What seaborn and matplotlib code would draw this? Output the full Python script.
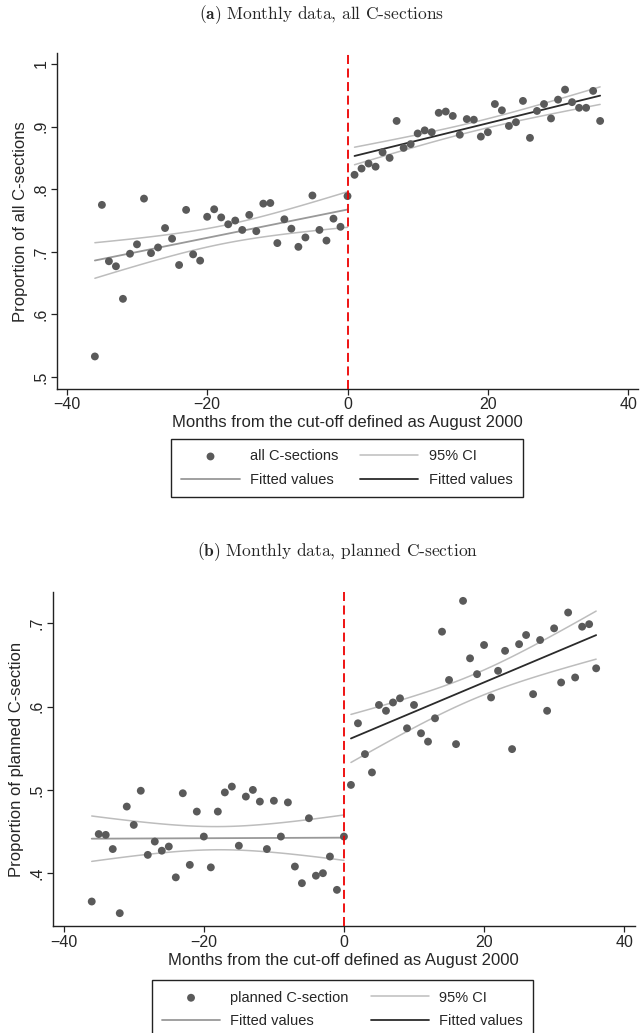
import numpy as np
import pandas as pd
import matplotlib.pyplot as plt
import matplotlib.ticker as mticker
import seaborn as sns

# months relative to cut-off (August 2000)
months = list(range(-36, 37))

# proportion of all C-sections, months -36..36
all_cs = [0.533, 0.775, 0.685, 0.677, 0.625, 0.697, 0.712, 0.785, 0.698, 0.707,
          0.738, 0.721, 0.679, 0.767, 0.696, 0.686, 0.756, 0.768, 0.755, 0.744,
          0.750, 0.735, 0.759, 0.733, 0.777, 0.778, 0.714, 0.752, 0.737, 0.708,
          0.723, 0.790, 0.735, 0.718, 0.753, 0.740, 0.789,
          0.823, 0.833, 0.841, 0.836, 0.859, 0.850, 0.909, 0.866, 0.872, 0.889,
          0.894, 0.891, 0.922, 0.924, 0.917, 0.887, 0.912, 0.911, 0.884, 0.891,
          0.936, 0.926, 0.901, 0.907, 0.941, 0.882, 0.925, 0.936, 0.913, 0.943,
          0.959, 0.939, 0.930, 0.930, 0.957, 0.909]

# proportion of planned C-section, months -36..36
planned_cs = [0.366, 0.447, 0.446, 0.429, 0.352, 0.480, 0.458, 0.499, 0.422, 0.438,
              0.427, 0.432, 0.395, 0.496, 0.410, 0.474, 0.444, 0.407, 0.474, 0.497,
              0.504, 0.433, 0.492, 0.500, 0.486, 0.429, 0.487, 0.444, 0.485, 0.408,
              0.388, 0.466, 0.397, 0.400, 0.420, 0.380, 0.444,
              0.506, 0.580, 0.543, 0.521, 0.602, 0.595, 0.605, 0.610, 0.574, 0.602,
              0.568, 0.558, 0.586, 0.690, 0.632, 0.555, 0.727, 0.658, 0.639, 0.674,
              0.611, 0.643, 0.667, 0.549, 0.675, 0.686, 0.615, 0.680, 0.595, 0.694,
              0.629, 0.713, 0.635, 0.696, 0.699, 0.646]

sns.set_theme(style="white")
plt.rcParams['font.family'] = ['Liberation Sans', 'DejaVu Sans']
plt.rcParams['mathtext.fontset'] = 'cm'

DOT = '#5a5a5a'
CI = '#bdbdbd'
FIT_L = '#999999'
FIT_R = '#2b2b2b'


def fit_ci(x, y, t=2.03):
    x = np.asarray(x, float)
    y = np.asarray(y, float)
    b, a = np.polyfit(x, y, 1)
    yhat = a + b * x
    n = len(x)
    s = np.sqrt(((y - yhat) ** 2).sum() / (n - 2))
    dx = x - x.mean()
    se = s * np.sqrt(1 / n + dx ** 2 / (dx ** 2).sum())
    return pd.DataFrame({'x': x, 'fit': yhat, 'lo': yhat - t * se, 'hi': yhat + t * se})


def draw_panel(ax, y, label, xlim, ylim, yticks):
    df = pd.DataFrame({'month': months, 'value': y})
    left = fit_ci(df.month[df.month <= 0], df.value[df.month <= 0])
    right = fit_ci(df.month[df.month > 0], df.value[df.month > 0])

    sns.scatterplot(data=df, x='month', y='value', color=DOT, s=32,
                    edgecolor='none', ax=ax, zorder=3)
    dots = ax.collections[-1]
    for part in (left, right):
        for col in ('lo', 'hi'):
            sns.lineplot(data=part, x='x', y=col, color=CI, lw=1.1, ax=ax, zorder=2)
    ci_line = ax.lines[-1]
    sns.lineplot(data=left, x='x', y='fit', color=FIT_L, lw=1.3, ax=ax, zorder=2)
    fit_l = ax.lines[-1]
    sns.lineplot(data=right, x='x', y='fit', color=FIT_R, lw=1.3, ax=ax, zorder=2)
    fit_r = ax.lines[-1]
    ax.axvline(0, color='#ee0000', lw=1.3, ls=(0, (5, 2.5)), zorder=4)

    ax.set_xlim(*xlim)
    ax.set_ylim(*ylim)
    ax.set_xticks([-40, -20, 0, 20, 40])
    ax.set_yticks(yticks)
    ax.yaxis.set_major_formatter(mticker.FuncFormatter(
        lambda v, p: '1' if abs(v - 1) < 1e-9 else ('%.1f' % v).lstrip('0')))
    ax.tick_params(axis='both', labelsize=11.5, length=4, width=0.9, color='#222222',
                   direction='out', bottom=True, left=True, pad=2)
    ax.tick_params(axis='y', labelrotation=90)
    for lab in ax.get_yticklabels():
        lab.set_va('center')
    ax.set_xlabel('Months from the cut-off defined as August 2000', fontsize=12, labelpad=2)
    ax.set_ylabel('Proportion of ' + label, fontsize=12, labelpad=4)
    sns.despine(ax=ax)
    for sp in ('left', 'bottom'):
        ax.spines[sp].set_color('#222222')
        ax.spines[sp].set_linewidth(1.0)
    return [dots, fit_l, ci_line, fit_r], [label, 'Fitted values', '95% CI', 'Fitted values']


fig = plt.figure(figsize=(6.4, 10.33), dpi=100)
ax1 = fig.add_axes([0.0886, 0.6234, 0.908, 0.325])
ax2 = fig.add_axes([0.0828, 0.1031, 0.909, 0.3241])

h1, l1 = draw_panel(ax1, all_cs, 'all C-sections', (-41.44, 41.37), (0.481, 1.017),
                    [0.5, 0.6, 0.7, 0.8, 0.9, 1.0])
h2, l2 = draw_panel(ax2, planned_cs, 'planned C-section', (-41.53, 41.51), (0.336, 0.738),
                    [0.4, 0.5, 0.6, 0.7])

leg_kw = dict(loc='upper center', bbox_transform=fig.transFigure, ncol=2, frameon=True,
              fancybox=False, edgecolor='#222222', framealpha=1, handlelength=4,
              handletextpad=0.7, columnspacing=1.5, borderpad=0.7, labelspacing=0.65,
              fontsize=10.5, markerscale=1.0)
leg1 = ax1.legend(h1, l1, bbox_to_anchor=(0.542, 0.582), **leg_kw)
leg2 = ax2.legend(h2, l2, bbox_to_anchor=(0.535, 0.058), **leg_kw)
for leg in (leg1, leg2):
    leg.get_frame().set_linewidth(1.0)

fig.text(0.503, 1 - 15 / 1033, r'$\mathbf{(a)}$ Monthly data, all C-sections',
         ha='center', va='center', fontfamily='cmr10', fontsize=12.5)
fig.text(0.527, 1 - 552 / 1033, r'$\mathbf{(b)}$ Monthly data, planned C-section',
         ha='center', va='center', fontfamily='cmr10', fontsize=12.5)

plt.savefig('out.png', dpi=100)
